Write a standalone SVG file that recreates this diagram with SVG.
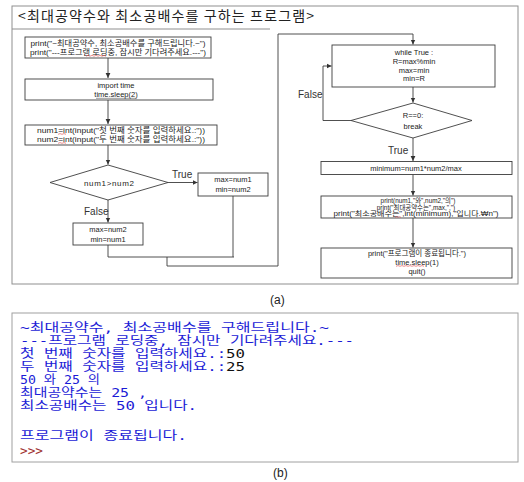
<svg xmlns="http://www.w3.org/2000/svg" width="524" height="482" viewBox="0 0 524 482">
<defs>
<marker id="ah" markerWidth="6" markerHeight="6" refX="5" refY="3" orient="auto" markerUnits="userSpaceOnUse">
<path d="M0,0.6 L5,3 L0,5.4 Z" fill="#333"/>
</marker>
<style>
.frame{fill:none;stroke:#8f8f8f;stroke-width:1}
.box{fill:#fff;stroke:#3c3c3c;stroke-width:0.9}
.conn{fill:none;stroke:#3c3c3c;stroke-width:0.9}
.t{font-family:"Liberation Sans","Noto Sans CJK KR",sans-serif;font-size:7.5px;fill:#222;text-anchor:middle}
.s{font-size:6.4px}
.lbl{font-family:"Liberation Sans","Noto Sans CJK KR",sans-serif;font-size:10px;fill:#333}
.title{font-family:"Noto Sans CJK KR",sans-serif;font-size:14px;fill:#222}
.cap{font-family:"Liberation Sans",sans-serif;font-size:12px;fill:#222}
.out{font-family:"DejaVu Sans Mono","Noto Sans CJK KR",monospace;font-size:12px;fill:#1b1bd6}
.blk{fill:#111}
.prm{fill:#a03030}
.sq{fill:none;stroke:#d44;stroke-width:0.6}
</style>
</defs>
<rect width="524" height="482" fill="#fff"/>

<g id="panel-a">
<rect class="frame" x="12" y="6" width="506" height="278"/>
<line class="frame" x1="12" y1="29" x2="270" y2="29"/>
<text class="title" x="18" y="21" textLength="296" lengthAdjust="spacing">&lt;최대공약수와 최소공배수를 구하는 프로그램&gt;</text>
</g>

<g id="connectors">
<line class="conn" x1="108" y1="58" x2="108" y2="78" marker-end="url(#ah)"/>
<line class="conn" x1="108" y1="100" x2="108" y2="124" marker-end="url(#ah)"/>
<line class="conn" x1="108" y1="145" x2="108" y2="164.5" marker-end="url(#ah)"/>
<line class="conn" x1="168" y1="182.5" x2="197.5" y2="182.5" marker-end="url(#ah)"/>
<line class="conn" x1="108" y1="200" x2="108" y2="222.5" marker-end="url(#ah)"/>
<path class="conn" d="M108,245 V257 H234 M233,196 V257 M167,257 V266 H278 V34 H413 V44.5" marker-end="url(#ah)"/>
<line class="conn" x1="413" y1="87" x2="413" y2="102.5" marker-end="url(#ah)"/>
<path class="conn" d="M351,120.5 H323 V66 H331.5" marker-end="url(#ah)"/>
<line class="conn" x1="413" y1="138" x2="413" y2="161" marker-end="url(#ah)"/>
<line class="conn" x1="413" y1="174.5" x2="413" y2="195.5" marker-end="url(#ah)"/>
<line class="conn" x1="413" y1="218" x2="413" y2="247.5" marker-end="url(#ah)"/>
<text class="lbl" x="172" y="178">True</text>
<text class="lbl" x="84" y="215">False</text>
<text class="lbl" x="298" y="98">False</text>
<text class="lbl" x="388" y="154">True</text>
</g>

<g id="n-print1">
<rect class="box" x="25" y="37" width="186" height="21"/>
<text class="t" x="118" y="45.5" textLength="175" lengthAdjust="spacingAndGlyphs">print("~최대공약수, 최소공배수를 구해드립니다.~")</text>
<text class="t" x="118" y="54.5" textLength="176" lengthAdjust="spacingAndGlyphs">print("---프로그램 로딩중, 잠시만 기다려주세요.---")</text>
<path class="sq" d="M86,56.2 l2,-0.8 l2,0.8 l2,-0.8 l2,0.8 l2,-0.8 l2,0.8 l2,-0.8 l2,0.8 l2,-0.8 l2,0.8"/>
</g>

<g id="n-import">
<rect class="box" x="25" y="79" width="188" height="21"/>
<text class="t" x="116" y="88">import time</text>
<text class="t" x="116" y="97">time.sleep(2)</text>
<line class="sq" x1="96" y1="98.3" x2="136" y2="98.3" style="stroke:#555"/>
</g>

<g id="n-input">
<rect class="box" x="25" y="125" width="192" height="20"/>
<text class="t" x="121" y="133" textLength="168" lengthAdjust="spacingAndGlyphs">num1=int(input("첫 번째 숫자를 입력하세요.:"))</text>
<text class="t" x="121" y="142" textLength="168" lengthAdjust="spacingAndGlyphs">num2=int(input("두 번째 숫자를 입력하세요.:"))</text>
<path class="sq" d="M58,134.3 l2,-0.7 l2,0.7 l2,-0.7 l2,0.7 M58,143.3 l2,-0.7 l2,0.7 l2,-0.7 l2,0.7"/>
</g>

<g id="n-cond1">
<polygon class="box" points="108,165 168,182.5 108,200 50,182.5"/>
<text class="t" x="109" y="185.5" textLength="50" lengthAdjust="spacing" style="font-size:8px">num1&gt;num2</text>
</g>

<g id="n-true1">
<rect class="box" x="198" y="173" width="70" height="23"/>
<text class="t" x="233" y="182">max=num1</text>
<text class="t" x="233" y="191.5">min=num2</text>
</g>

<g id="n-false1">
<rect class="box" x="73" y="223" width="70" height="22"/>
<text class="t" x="108" y="232">max=num2</text>
<text class="t" x="108" y="241.5">min=num1</text>
</g>

<g id="n-while">
<rect class="box" x="332" y="45" width="163" height="42"/>
<text class="t" x="414" y="55">while True :</text>
<text class="t" x="414" y="64">R=max%min</text>
<text class="t" x="414" y="72.5">max=min</text>
<text class="t" x="414" y="81">min=R</text>
</g>

<g id="n-cond2">
<polygon class="box" points="413,103 472,120.5 413,138 351,120.5"/>
<text class="t" x="413" y="118">R==0:</text>
<text class="t" x="413" y="129">break</text>
</g>

<g id="n-minimum">
<rect class="box" x="321" y="161.5" width="191" height="13"/>
<text class="t" x="416" y="170.8">minimum=num1*num2/max</text>
</g>

<g id="n-print2">
<rect class="box" x="321" y="196" width="191" height="22"/>
<text class="t s" x="418" y="203">print(num1,"와",num2,"의")</text>
<text class="t s" x="416" y="209.6">print("최대공약수는",max,",")</text>
<text class="t s" x="416" y="216.2" textLength="165" lengthAdjust="spacingAndGlyphs">print("최소공배수는",int(minimum),"입니다.₩n")</text>
<path class="sq" d="M395,217.3 l1.5,-0.6 l1.5,0.6 l1.5,-0.6 l1.5,0.6"/>
</g>

<g id="n-end">
<rect class="box" x="321" y="248" width="191" height="30"/>
<text class="t" x="417" y="256">print("프로그램이 종료됩니다.")</text>
<text class="t" x="417" y="265">time.sleep(1)</text>
<text class="t" x="417" y="274">quit()</text>
<path class="sq" d="M396,266.3 l2,-0.7 l2,0.7 l2,-0.7 l2,0.7 l2,-0.7 l2,0.7 l2,-0.7 l2,0.7 l2,-0.7 l2,0.7 l2,-0.7 l2,0.7 l2,-0.7 l2,0.7"/>
</g>

<text class="cap" x="270" y="304">(a)</text>

<g id="panel-b">
<rect class="frame" x="12" y="313" width="506" height="149" style="stroke:#a0a0a0"/>
<text class="out" x="20" y="331.5" textLength="309" lengthAdjust="spacingAndGlyphs">~최대공약수, 최소공배수를 구해드립니다.~</text>
<text class="out" x="20" y="344.5" textLength="334" lengthAdjust="spacingAndGlyphs">---프로그램 로딩중, 잠시만 기다려주세요.---</text>
<text class="out" x="20" y="357.5" textLength="225" lengthAdjust="spacingAndGlyphs">첫 번째 숫자를 입력하세요.:<tspan class="blk">50</tspan></text>
<text class="out" x="20" y="370.5" textLength="225" lengthAdjust="spacingAndGlyphs">두 번째 숫자를 입력하세요.:<tspan class="blk">25</tspan></text>
<text class="out" x="20" y="383.5" textLength="80" lengthAdjust="spacingAndGlyphs">50 와 25 의</text>
<text class="out" x="20" y="396.5" textLength="127" lengthAdjust="spacingAndGlyphs">최대공약수는 25 ,</text>
<text class="out" x="20" y="409.5" textLength="177" lengthAdjust="spacingAndGlyphs">최소공배수는 50 입니다.</text>
<text class="out" x="20" y="439.5" textLength="167" lengthAdjust="spacingAndGlyphs">프로그램이 종료됩니다.</text>
<text class="out prm" x="20" y="454.5" textLength="23" lengthAdjust="spacingAndGlyphs">&gt;&gt;&gt;</text>
</g>

<text class="cap" x="273" y="477">(b)</text>
</svg>
